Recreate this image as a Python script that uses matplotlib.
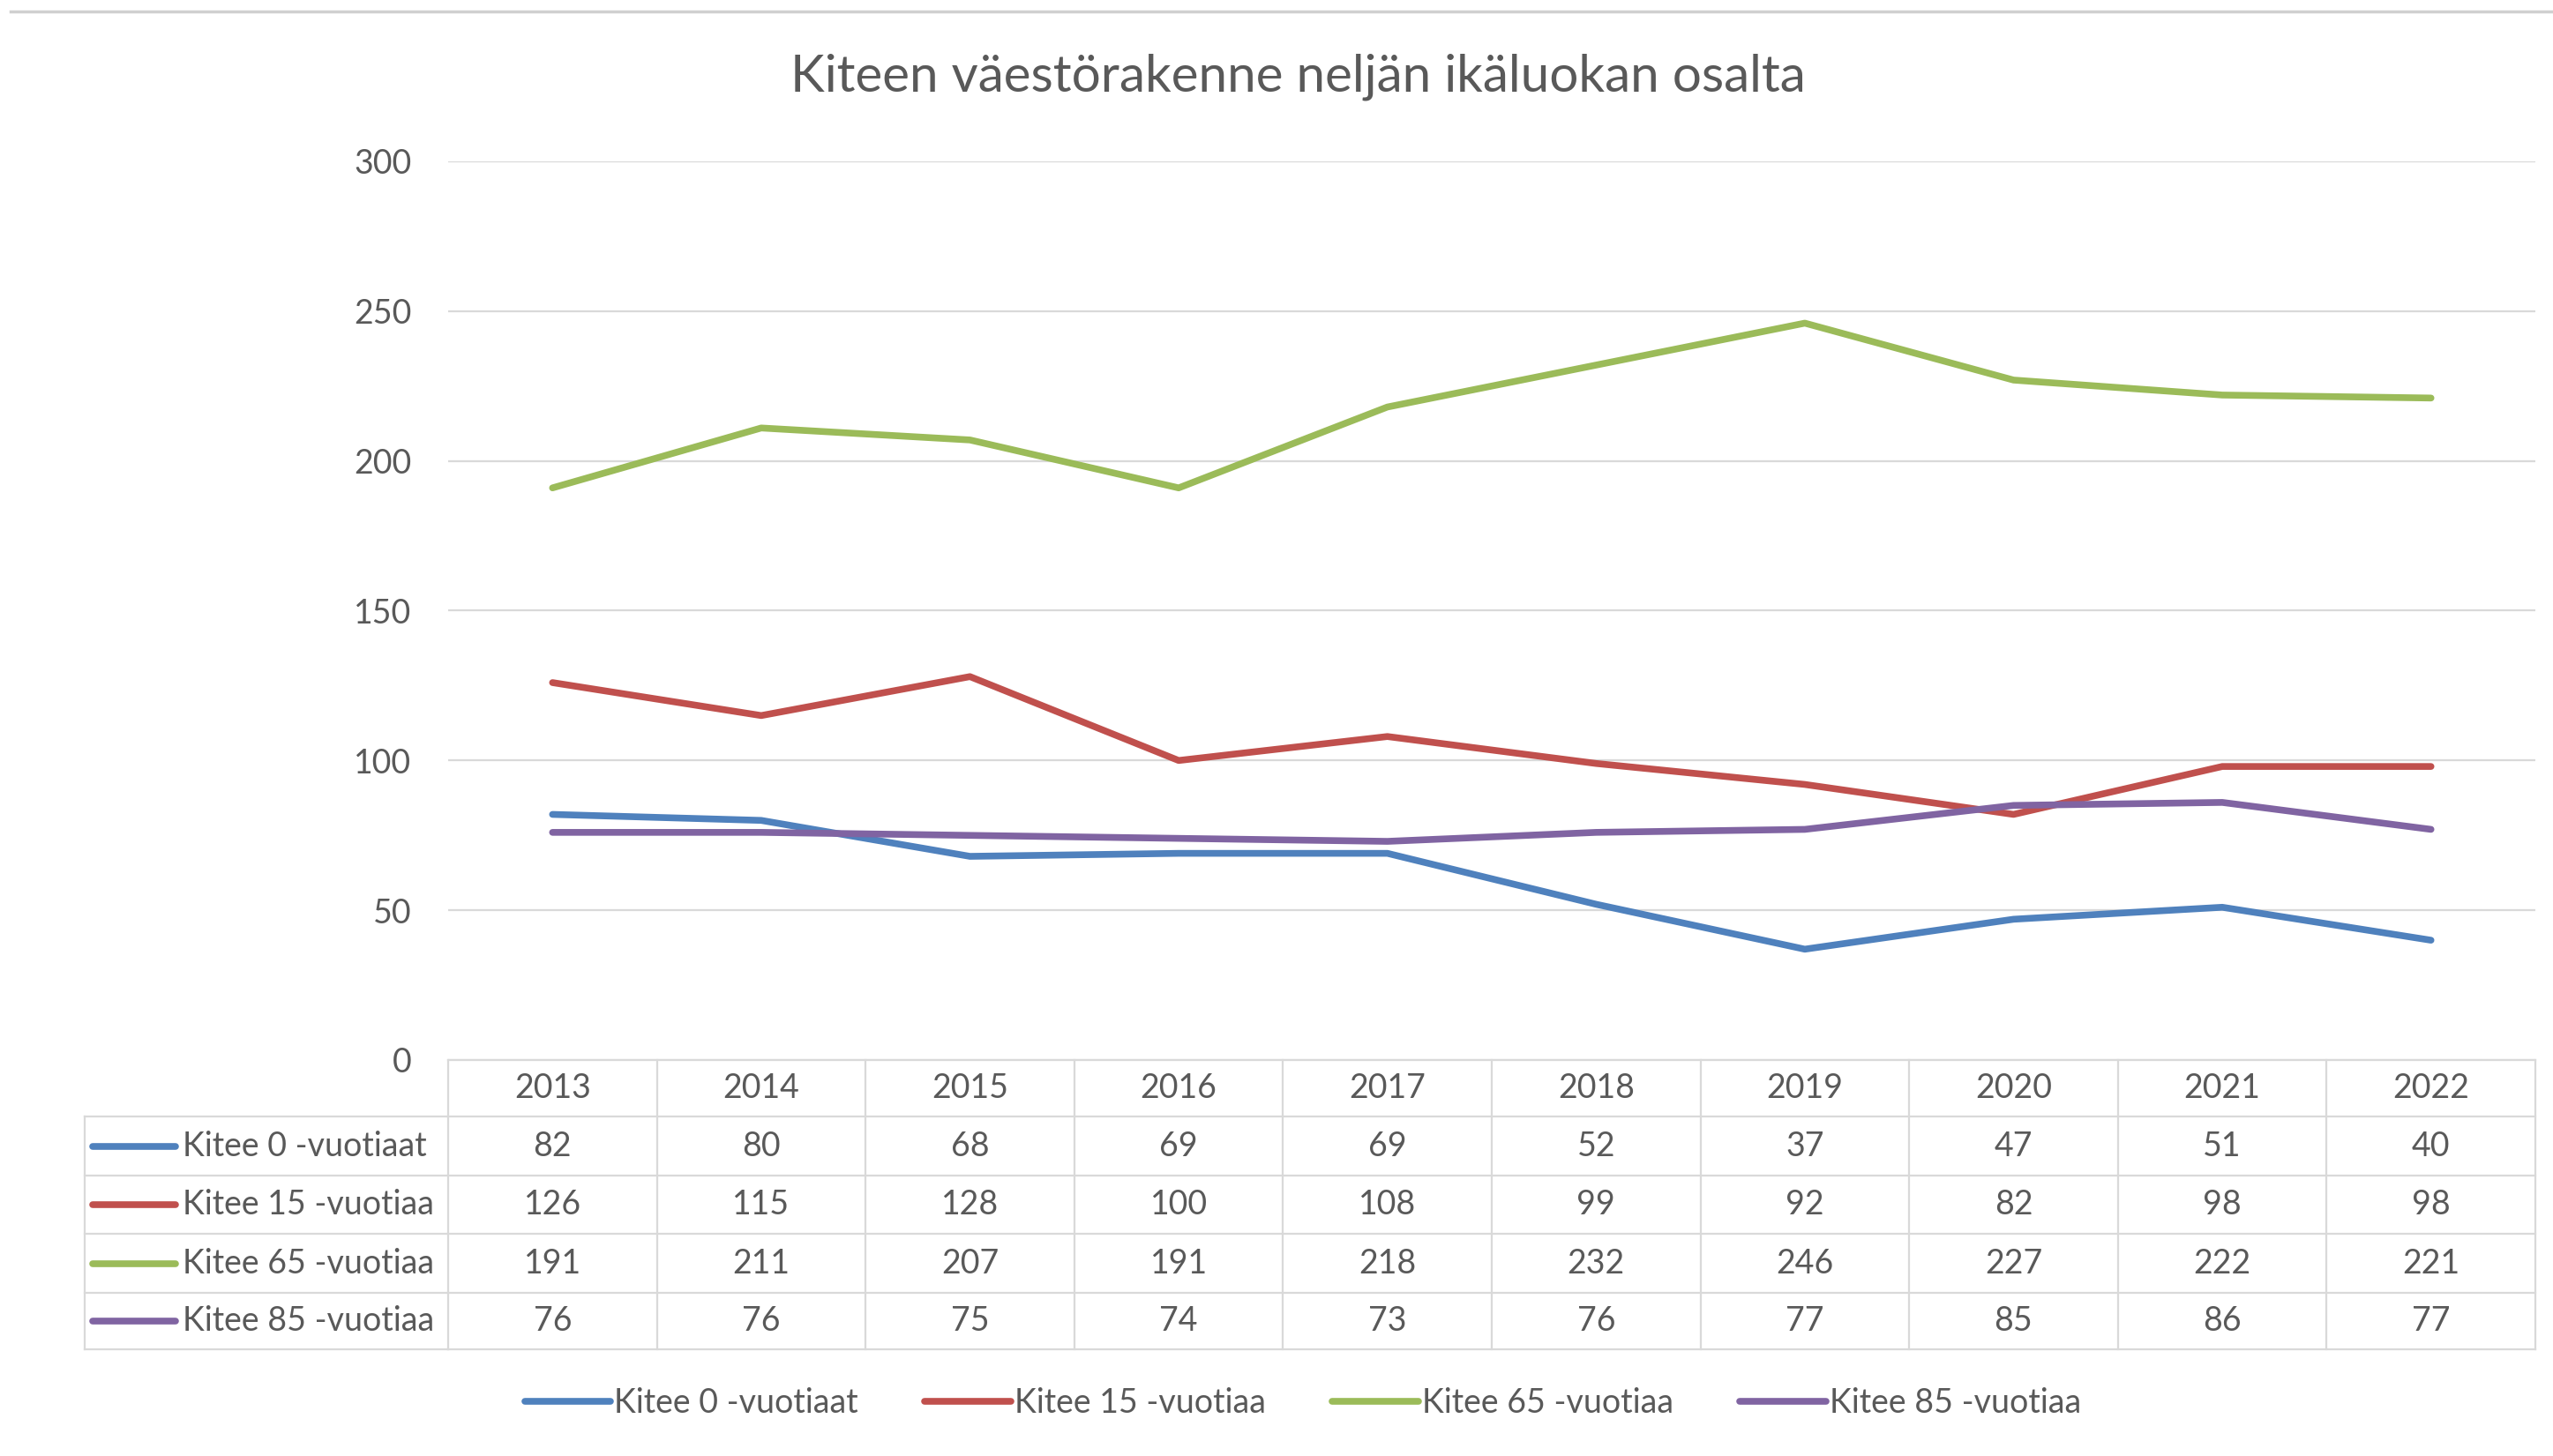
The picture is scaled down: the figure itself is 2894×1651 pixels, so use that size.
import matplotlib.pyplot as plt
import matplotlib.transforms as mtransforms
from matplotlib.lines import Line2D

plt.rcParams['font.family'] = ['Lato', 'DejaVu Sans']

years = ['2013', '2014', '2015', '2016', '2017', '2018', '2019', '2020', '2021', '2022']
series_names = ['Kitee 0 -vuotiaat', 'Kitee 15 -vuotiaa', 'Kitee 65 -vuotiaa', 'Kitee 85 -vuotiaa']
age_0 = [82, 80, 68, 69, 69, 52, 37, 47, 51, 40]
age_15 = [126, 115, 128, 100, 108, 99, 92, 82, 98, 98]
age_65 = [191, 211, 207, 191, 218, 232, 246, 227, 222, 221]
age_85 = [76, 76, 75, 74, 73, 76, 77, 85, 86, 77]
colors = ['#4F81BD', '#C0504D', '#9BBB59', '#8064A2']

W, H = 2894, 1651
fig = plt.figure(figsize=(W / 100, H / 100), dpi=100)
text_col = '#595959'
grid_col = '#D9D9D9'
fs = 27


def fy(py):
    # pixel row (from top) -> figure fraction
    return 1 - py / H


def fx(px):
    return px / W


ax = fig.add_axes([fx(508), fy(1202), fx(2874) - fx(508), fy(183) - fy(1202)])
x = list(range(len(years)))
all_series = [age_0, age_15, age_65, age_85]
for vals, name, c in zip(all_series, series_names, colors):
    ax.plot(x, vals, color=c, lw=5.5, label=name, solid_capstyle='round')

ax.set_xlim(-0.5, len(years) - 0.5)
ax.set_ylim(0, 300)
ax.set_yticks(range(0, 301, 50))
ax.yaxis.grid(True, color=grid_col, lw=1.6)
ax.set_axisbelow(True)
ax.set_xticks([])
for s in ['top', 'right', 'left']:
    ax.spines[s].set_visible(False)
ax.spines['bottom'].set_color(grid_col)
ax.spines['bottom'].set_linewidth(1.6)
ax.tick_params(axis='y', length=0, pad=30, labelsize=fs, labelcolor=text_col)

fig.text(fx(1471), fy(87), 'Kiteen väestörakenne neljän ikäluokan osalta',
         ha='center', va='center', fontsize=42, color=text_col)

# data table below the plot: x in data coords, y in figure coords
trans = mtransforms.blended_transform_factory(ax.transData, fig.transFigure)
row_edges = [1202, 1266, 1333, 1399, 1466, 1530]
x0, x1 = -0.5, len(years) - 0.5
tline = dict(color=grid_col, lw=1.6, transform=trans, clip_on=False)

# horizontal lines
for i, ry in enumerate(row_edges):
    if i == 0:
        continue
    fig.add_artist(Line2D([x0, x1], [fy(ry), fy(ry)], **tline))
    fig.add_artist(Line2D([fx(96), fx(508)], [fy(ry), fy(ry)], color=grid_col, lw=1.6))
# vertical lines
for i in range(len(years) + 1):
    xv = i - 0.5
    fig.add_artist(Line2D([xv, xv], [fy(row_edges[0]), fy(row_edges[-1])], **tline))
fig.add_artist(Line2D([fx(96), fx(96)], [fy(row_edges[1]), fy(row_edges[-1])], color=grid_col, lw=1.6))

# header
hy = (row_edges[0] + row_edges[1]) / 2
for i, yr in enumerate(years):
    fig.text(i, fy(hy), yr, transform=trans, ha='center', va='center', fontsize=fs, color=text_col)

# rows
for r, (vals, name, c) in enumerate(zip(all_series, series_names, colors)):
    cy = (row_edges[r + 1] + row_edges[r + 2]) / 2
    fig.add_artist(Line2D([fx(105), fx(199)], [fy(cy), fy(cy)], color=c, lw=5.5, solid_capstyle='round'))
    fig.text(fx(207), fy(cy), name, ha='left', va='center', fontsize=fs, color=text_col)
    for i, v in enumerate(vals):
        fig.text(i, fy(cy), str(v), transform=trans, ha='center', va='center', fontsize=fs, color=text_col)

# legend at the bottom
leg = fig.legend(loc='center', bbox_to_anchor=(fx(1477), fy(1591)), ncol=4, frameon=False,
                 fontsize=fs, handlelength=2.6, handletextpad=0.12, columnspacing=2.0)
for t in leg.get_texts():
    t.set_color(text_col)

# thin grey rule at the very top of the screenshot
fig.add_artist(Line2D([fx(12), 1], [fy(13), fy(13)], color='#D0D0D0', lw=2.5))

fig.savefig('out.png', dpi=100, facecolor='white')
